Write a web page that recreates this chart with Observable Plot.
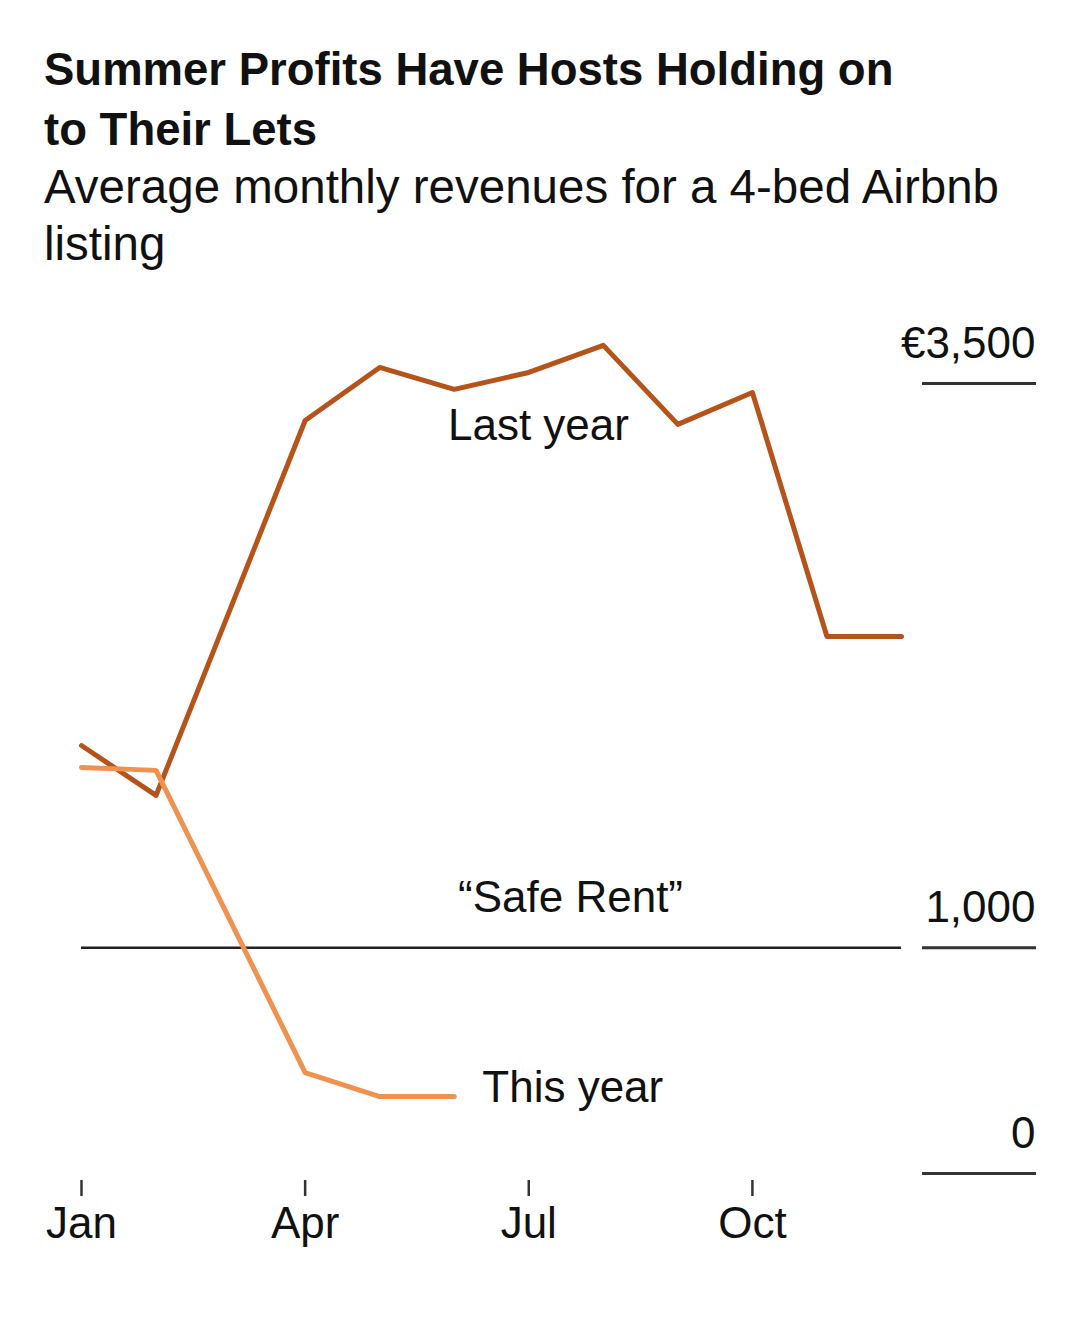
<!DOCTYPE html>
<html>
<head>
<meta charset="utf-8">
<script src="https://cdn.jsdelivr.net/npm/d3@7"></script>
<script src="https://cdn.jsdelivr.net/npm/@observablehq/plot@0.6"></script>
<style>
  html, body { margin: 0; padding: 0; background: #fff; }
  body { width: 1080px; height: 1333px; overflow: hidden; }
  #title { position: absolute; left: 44px; top: 40px; font-family: "Liberation Sans", Arial, sans-serif; font-weight: 700; font-size: 45.5px; line-height: 60px; color: #111; }
  #subtitle { position: absolute; left: 44px; top: 158px; font-family: "Liberation Sans", Arial, sans-serif; font-size: 47.5px; line-height: 57px; color: #111; }
  #chart { position: absolute; left: 0; top: 280px; }
</style>
</head>
<body>
<div id="title">Summer Profits Have Hosts Holding on<br>to Their Lets</div>
<div id="subtitle">Average monthly revenues for a 4-bed Airbnb<br>listing</div>
<div id="chart"></div>
<script>
const months = ["Jan","Feb","Mar","Apr","May","Jun","Jul","Aug","Sep","Oct","Nov","Dec"];
const lastYear = [1896, 1675, 2505, 3336, 3571, 3474, 3549, 3669, 3319, 3460, 2379, 2379];
const thisYear = [1799, 1786, 1117, 447, 341, 341];
const safeRent = 1000;
const yTicks = [0, 1000, 3500];
const yTickLabels = ["0", "1,000", "€3,500"];
const xTicks = [0, 3, 6, 9];
const xTickLabels = ["Jan", "Apr", "Jul", "Oct"];
const labels = [
  {text: "Last year", x: 6.13, y: 3310},
  {text: "“Safe Rent”", x: 6.56, y: 1222},
  {text: "This year", x: 6.59, y: 378}
];

const lastData = lastYear.map((v, i) => ({m: i, v}));
const thisData = thisYear.map((v, i) => ({m: i, v}));

const chart = Plot.plot({
  width: 1080,
  height: 1000,
  marginLeft: 81,
  marginRight: 159,
  marginTop: 103,
  marginBottom: 100,
  insetRight: 20,
  insetBottom: 7,
  style: {fontFamily: "'Liberation Sans', Arial, sans-serif", fontSize: "44px", color: "#111", background: "#fff"},
  x: {domain: [0, 11]},
  y: {domain: [0, 3500]},
  marks: [
    Plot.axisX({
      ticks: xTicks,
      tickFormat: (d) => xTickLabels[xTicks.indexOf(d)],
      tickSize: 16,
      tickPadding: 10,
      strokeWidth: 2.5,
      stroke: "#333",
      fontSize: 44,
      label: null
    }),
    Plot.axisY({
      anchor: "right",
      ticks: yTicks,
      tickFormat: () => "",
      tickSize: 114,
      strokeWidth: 3,
      stroke: "#333",
      label: null
    }),
    Plot.axisY({
      anchor: "right",
      ticks: yTicks,
      tickFormat: (d) => yTickLabels[yTicks.indexOf(d)],
      tickSize: 0,
      tickPadding: 114,
      textAnchor: "end",
      dy: -40,
      fontSize: 44,
      label: null
    }),
    Plot.ruleY([safeRent], {stroke: "#222", strokeWidth: 2.5, insetRight: 20}),
    Plot.line(lastData, {x: "m", y: "v", stroke: "#b4531a", strokeWidth: 5}),
    Plot.line(thisData, {x: "m", y: "v", stroke: "#f0924f", strokeWidth: 5}),
    Plot.text(labels, {x: "x", y: "y", text: "text", fontSize: 44, fill: "#111", textAnchor: "middle", lineAnchor: "middle"})
  ]
});
document.getElementById("chart").appendChild(chart);
</script>
</body>
</html>
